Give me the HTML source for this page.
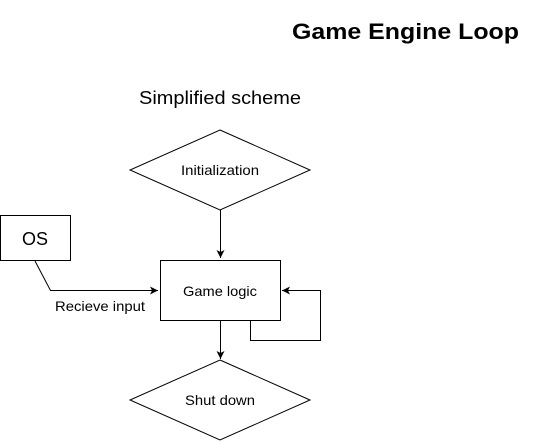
<!DOCTYPE html>
<html><head><style>
body{margin:0;background:#fff;width:551px;height:441px;overflow:hidden}
text{font-family:"Liberation Sans",sans-serif;fill:#000}
</style></head><body>
<svg width="551" height="441" viewBox="0 0 551 441" xmlns="http://www.w3.org/2000/svg">
<defs><marker id="a" markerWidth="10" markerHeight="10" refX="8" refY="4" orient="auto" markerUnits="userSpaceOnUse"><path d="M0,0 L8,4 L0,8 L2,4 Z" fill="#000"/></marker></defs>
<text x="292" y="39" font-size="22" font-weight="bold" textLength="227" lengthAdjust="spacingAndGlyphs">Game Engine Loop</text>
<text x="139" y="104" font-size="18" textLength="162" lengthAdjust="spacingAndGlyphs">Simplified scheme</text>
<polygon points="220,130 310,170 220,210 130,170" fill="#fff" stroke="#000"/>
<text x="181" y="175" font-size="14" textLength="78" lengthAdjust="spacingAndGlyphs">Initialization</text>
<rect x="0.5" y="215.5" width="70" height="45" fill="#fff" stroke="#000"/>
<text x="22" y="245" font-size="18" textLength="26" lengthAdjust="spacingAndGlyphs">OS</text>
<rect x="160.5" y="260.5" width="120" height="60" fill="#fff" stroke="#000"/>
<text x="183" y="296" font-size="14" textLength="74" lengthAdjust="spacingAndGlyphs">Game logic</text>
<polygon points="220,360 310,400 220,440 130,400" fill="#fff" stroke="#000"/>
<text x="185" y="405" font-size="14" textLength="70" lengthAdjust="spacingAndGlyphs">Shut down</text>
<path d="M220.5,210 V258" stroke="#000" fill="none" marker-end="url(#a)"/>
<path d="M220.5,321 V359" stroke="#000" fill="none" marker-end="url(#a)"/>
<path d="M35,261 L50.5,290.5 H158" stroke="#000" fill="none" marker-end="url(#a)"/>
<path d="M250.5,321 V340.5 H320.5 V290.5 H282" stroke="#000" fill="none" marker-end="url(#a)"/>
<text x="55" y="311" font-size="14" textLength="90" lengthAdjust="spacingAndGlyphs">Recieve input</text>
</svg>
</body></html>
